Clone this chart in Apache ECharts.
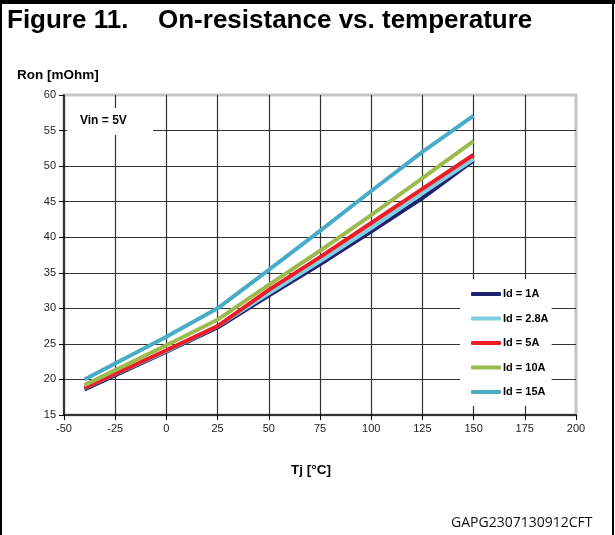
<!DOCTYPE html>
<html>
<head>
<meta charset="utf-8">
<script src="https://cdn.jsdelivr.net/npm/echarts@6/dist/echarts.min.js"></script>
<style>
  html, body { margin: 0; padding: 0; background: #fff; }
  #main { width: 615px; height: 535px; }
</style>
</head>
<body>
<div id="main"></div>
<script>
// junction temperature points (°C)
var tj = [-40, 0, 25, 50, 75, 100, 125, 150];

// Ron in mOhm
var ron1A   = [18.6, 23.9, 27.3, 31.8, 36.2, 40.8, 45.5, 50.8];
var ron2_8A = [18.8, 24.0, 27.5, 32.1, 36.6, 41.3, 46.2, 51.0];
var ron5A   = [18.8, 24.1, 27.5, 32.6, 37.2, 42.0, 46.8, 51.6];
var ron10A  = [19.2, 24.8, 28.4, 33.3, 38.1, 43.1, 48.3, 53.5];
var ron15A  = [20.0, 26.0, 30.0, 35.4, 40.9, 46.5, 52.0, 57.1];

var seriesNames = ['Id = 1A', 'Id = 2.8A', 'Id = 5A', 'Id = 10A', 'Id = 15A'];
var seriesData = [ron1A, ron2_8A, ron5A, ron10A, ron15A];
var colors = ['#1f2370', '#7fd0e2', '#ee1c25', '#9cbb4e', '#48acc6'];

function pairs(ys) {
    var out = [];
    for (var i = 0; i < tj.length; i++) out.push([tj[i], ys[i]]);
    return out;
}

var myChart = echarts.init(document.getElementById('main'), null, {renderer: 'canvas'});

var series = [];
for (var i = 0; i < seriesNames.length; i++) {
    series.push({
        name: seriesNames[i],
        type: 'line',
        data: pairs(seriesData[i]),
        showSymbol: false,
        symbol: 'none',
        lineStyle: { width: 4, color: colors[i] },
        itemStyle: { color: colors[i] },
        z: 3 + i
    });
}

var font = 'Arial, "Liberation Sans", sans-serif';

var option = {
    backgroundColor: '#fff',
    animation: false,
    color: colors,
    title: [
        {
            text: 'Figure 11.',
            left: 2, top: 3,
            textStyle: { fontFamily: font, fontSize: 26, fontWeight: 'bold', color: '#000' }
        },
        {
            text: 'On-resistance vs. temperature',
            left: 153, top: 3,
            textStyle: { fontFamily: font, fontSize: 26, fontWeight: 'bold', color: '#000' }
        },
        {
            text: 'Ron [mOhm]',
            left: 12, top: 63,
            textStyle: { fontFamily: font, fontSize: 13.5, fontWeight: 'bold', color: '#000' }
        },
        {
            text: 'GAPG2307130912CFT',
            left: 446, top: 511,
            textStyle: { fontFamily: '"Open Sans", sans-serif', fontSize: 14, fontWeight: 'normal', color: '#111' }
        }
    ],
    grid: {
        left: 64, top: 95, width: 512, height: 320,
        show: true,
        borderColor: '#c4c4c4',
        borderWidth: 3,
        backgroundColor: '#fff'
    },
    legend: {
        orient: 'vertical',
        left: 460, top: 279,
        padding: [8, 3, 7, 11],
        backgroundColor: '#fff',
        itemWidth: 30,
        itemHeight: 4,
        itemGap: 10.5,
        icon: 'roundRect',
        data: seriesNames,
        textStyle: { fontFamily: font, fontSize: 11, fontWeight: 'bold', color: '#000', lineHeight: 14, padding: [0, 0, 0, -3] },
        z: 20
    },
    xAxis: {
        type: 'value',
        min: -50, max: 200, interval: 25,
        name: 'Tj [°C]',
        nameLocation: 'middle',
        nameGap: 48,
        nameTextStyle: { fontFamily: font, fontSize: 13.5, fontWeight: 'bold', color: '#000', padding: [0, 18, 0, 0] },
        axisLine: { show: true, onZero: false, lineStyle: { color: '#000', width: 1.5 } },
        axisTick: { show: true, inside: false, length: 5, lineStyle: { color: '#000' } },
        axisLabel: { fontFamily: font, fontSize: 11, color: '#222', margin: 8 },
        splitLine: { show: true, showMinLine: false, showMaxLine: false, lineStyle: { color: '#333', width: 1.2 } }
    },
    yAxis: {
        type: 'value',
        min: 15, max: 60, interval: 5,
        axisLine: { show: true, onZero: false, lineStyle: { color: '#000', width: 1.5 } },
        axisTick: { show: true, inside: false, length: 5, lineStyle: { color: '#000' } },
        axisLabel: { fontFamily: font, fontSize: 11, color: '#222', margin: 8 },
        splitLine: { show: true, showMinLine: false, showMaxLine: false, lineStyle: { color: '#333', width: 1.2 } }
    },
    graphic: [
        // page frame: thick top rule, thin side rules
        { type: 'rect', shape: { x: 0, y: 0, width: 615, height: 4 }, style: { fill: '#000' }, silent: true },
        { type: 'rect', shape: { x: 0, y: 0, width: 2, height: 535 }, style: { fill: '#000' }, silent: true },
        { type: 'rect', shape: { x: 612, y: 0, width: 2, height: 535 }, style: { fill: '#000' }, silent: true },
        // Vin annotation box
        { type: 'rect', shape: { x: 67, y: 108, width: 86, height: 27 }, style: { fill: '#fff' }, z: 20, silent: true },
        {
            type: 'text', left: 80, top: 115, z: 21, silent: true,
            style: { text: 'Vin = 5V', font: 'bold 12px ' + font, fill: '#000' }
        }
    ],
    series: series
};

myChart.setOption(option);
</script>
</body>
</html>
